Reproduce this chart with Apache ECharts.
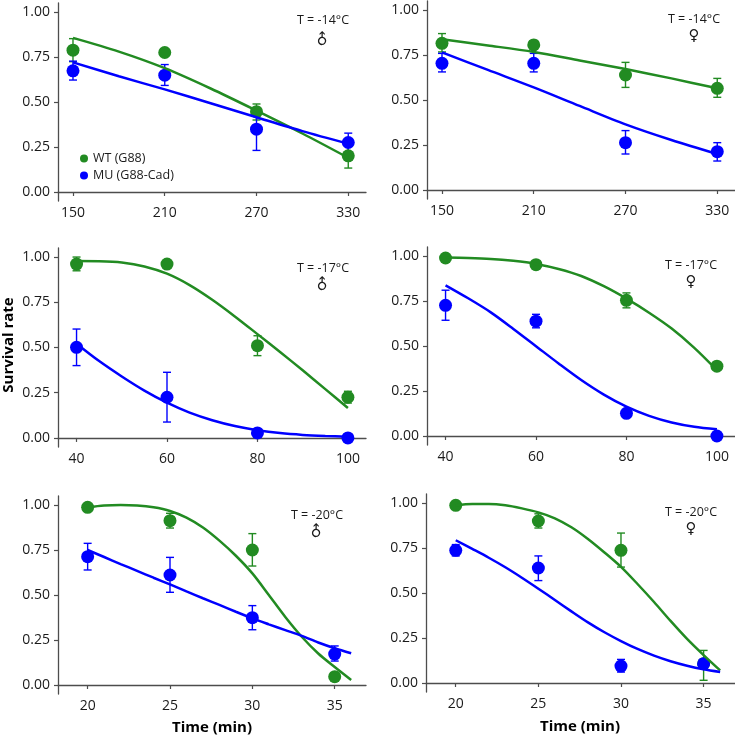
<!DOCTYPE html>
<html>
<head>
<meta charset="utf-8">
<script src="https://cdn.jsdelivr.net/npm/echarts@6/dist/echarts.min.js"></script>
<style>html,body{margin:0;padding:0;background:#fff}#c{width:735px;height:738px}</style>
</head>
<body>
<div id="c"></div>
<script>
// ---- Data ----
const timesA = [150, 210, 270, 330];
const timesB = [40, 60, 80, 100];
const timesC = [20, 25, 30, 35];
const tickLabelsA = [150, 210, 270, 330];
const tickLabelsB = [40, 60, 80, 100];
const tickLabelsC = [20, 25, 30, 35];
const yTicks = [0, 0.25, 0.5, 0.75, 1.0];

// Panel 1: T=-14°C male
const p1_wt = [0.788, 0.775, 0.446, 0.201];
const p1_wt_lo = [0.724, 0.755, 0.400, 0.133];
const p1_wt_hi = [0.852, 0.795, 0.489, 0.270];
const p1_mu = [0.673, 0.649, 0.349, 0.275];
const p1_mu_lo = [0.622, 0.592, 0.231, 0.223];
const p1_mu_hi = [0.727, 0.708, 0.467, 0.327];
const p1_fitX = [150, 180, 210, 240, 270, 300, 330];
const p1_fitWT = [0.856, 0.780, 0.688, 0.575, 0.452, 0.325, 0.190];
const p1_fitMU = [0.720, 0.643, 0.570, 0.493, 0.415, 0.338, 0.268];

// Panel 2: T=-14°C female
const p2_wt = [0.815, 0.806, 0.639, 0.565];
const p2_wt_lo = [0.767, 0.785, 0.570, 0.515];
const p2_wt_hi = [0.869, 0.830, 0.709, 0.620];
const p2_mu = [0.704, 0.704, 0.263, 0.213];
const p2_mu_lo = [0.656, 0.656, 0.200, 0.161];
const p2_mu_hi = [0.759, 0.759, 0.330, 0.263];
const p2_fitX = [150, 180, 210, 240, 270, 300, 330];
const p2_fitWT = [0.837, 0.803, 0.767, 0.720, 0.672, 0.620, 0.565];
const p2_fitMU = [0.765, 0.667, 0.570, 0.467, 0.365, 0.278, 0.200];

// Panel 3: T=-17°C male
const p3_wt = [0.961, 0.961, 0.510, 0.225];
const p3_wt_lo = [0.924, 0.950, 0.455, 0.193];
const p3_wt_hi = [1.000, 0.972, 0.565, 0.258];
const p3_mu = [0.501, 0.225, 0.028, 0.0];
const p3_mu_lo = [0.400, 0.088, 0.020, 0.0];
const p3_mu_hi = [0.602, 0.363, 0.036, 0.0];
const p3_fitX = [40, 45, 50, 55, 60, 65, 70, 75, 80, 85, 90, 95, 100];
const p3_fitWT = [0.978, 0.977, 0.970, 0.948, 0.908, 0.845, 0.764, 0.672, 0.574, 0.475, 0.374, 0.270, 0.166];
const p3_fitMU = [0.521, 0.425, 0.340, 0.262, 0.195, 0.140, 0.098, 0.066, 0.043, 0.027, 0.017, 0.011, 0.007];

// Panel 4: T=-17°C female
const p4_wt = [0.989, 0.952, 0.754, 0.388];
const p4_wt_lo = [0.980, 0.940, 0.712, 0.375];
const p4_wt_hi = [1.000, 0.965, 0.795, 0.400];
const p4_mu = [0.726, 0.638, 0.126, 0.0];
const p4_mu_lo = [0.643, 0.601, 0.115, 0.0];
const p4_mu_hi = [0.810, 0.676, 0.137, 0.0];
const p4_fitX = [40, 45, 50, 55, 60, 65, 70, 75, 80, 85, 90, 95, 100];
const p4_fitWT = [0.991, 0.989, 0.984, 0.973, 0.956, 0.928, 0.889, 0.832, 0.763, 0.685, 0.597, 0.490, 0.366];
const p4_fitMU = [0.837, 0.765, 0.687, 0.595, 0.499, 0.403, 0.311, 0.230, 0.163, 0.112, 0.075, 0.051, 0.037];

// Panel 5: T=-20°C male
const p5_wt = [0.987, 0.913, 0.750, 0.046];
const p5_wt_lo = [0.980, 0.872, 0.661, 0.040];
const p5_wt_hi = [0.995, 0.954, 0.841, 0.050];
const p5_mu = [0.713, 0.611, 0.374, 0.172];
const p5_mu_lo = [0.639, 0.515, 0.307, 0.133];
const p5_mu_hi = [0.787, 0.709, 0.441, 0.217];
const p5_fitX = [20, 21, 22, 23, 24, 25, 26, 27, 28, 29, 30, 31, 32, 33, 34, 35, 36];
const p5_fitWT = [0.987, 0.997, 1.000, 0.997, 0.987, 0.967, 0.930, 0.875, 0.802, 0.718, 0.620, 0.500, 0.378, 0.268, 0.175, 0.100, 0.028];
const p5_fitMU = [0.750, 0.711, 0.672, 0.634, 0.596, 0.559, 0.520, 0.482, 0.445, 0.407, 0.370, 0.337, 0.305, 0.273, 0.236, 0.204, 0.176];

// Panel 6: T=-20°C female
const p6_wt = [0.987, 0.900, 0.737, 0.107];
const p6_wt_lo = [0.980, 0.861, 0.644, 0.015];
const p6_wt_hi = [0.995, 0.940, 0.833, 0.181];
const p6_mu = [0.737, 0.639, 0.094, 0.107];
const p6_mu_lo = [0.706, 0.569, 0.061, 0.080];
const p6_mu_hi = [0.769, 0.706, 0.131, 0.135];
const p6_fitX = [20, 21, 22, 23, 24, 25, 26, 27, 28, 29, 30, 31, 32, 33, 34, 35, 36];
const p6_fitWT = [0.987, 0.994, 0.994, 0.987, 0.970, 0.948, 0.915, 0.865, 0.800, 0.725, 0.645, 0.550, 0.450, 0.345, 0.245, 0.155, 0.070];
const p6_fitMU = [0.793, 0.745, 0.696, 0.643, 0.585, 0.524, 0.461, 0.398, 0.337, 0.282, 0.233, 0.189, 0.152, 0.121, 0.096, 0.076, 0.061];

const panelLabels = ['T = -14°C', 'T = -14°C', 'T = -17°C', 'T = -17°C', 'T = -20°C', 'T = -20°C'];
const sexSymbols = ['♂', '♀', '♂', '♀', '♂', '♀'];

// ---- Build ----
const GREEN = '#228B22';
const BLUE = '#0000FF';
const FONT = '"Open Sans", "Noto Sans", sans-serif';

const panels = [
  {t: timesA, ticks: tickLabelsA, wt: p1_wt, wlo: p1_wt_lo, whi: p1_wt_hi, mu: p1_mu, mlo: p1_mu_lo, mhi: p1_mu_hi, fx: p1_fitX, fw: p1_fitWT, fm: p1_fitMU},
  {t: timesA, ticks: tickLabelsA, wt: p2_wt, wlo: p2_wt_lo, whi: p2_wt_hi, mu: p2_mu, mlo: p2_mu_lo, mhi: p2_mu_hi, fx: p2_fitX, fw: p2_fitWT, fm: p2_fitMU},
  {t: timesB, ticks: tickLabelsB, wt: p3_wt, wlo: p3_wt_lo, whi: p3_wt_hi, mu: p3_mu, mlo: p3_mu_lo, mhi: p3_mu_hi, fx: p3_fitX, fw: p3_fitWT, fm: p3_fitMU},
  {t: timesB, ticks: tickLabelsB, wt: p4_wt, wlo: p4_wt_lo, whi: p4_wt_hi, mu: p4_mu, mlo: p4_mu_lo, mhi: p4_mu_hi, fx: p4_fitX, fw: p4_fitWT, fm: p4_fitMU},
  {t: timesC, ticks: tickLabelsC, wt: p5_wt, wlo: p5_wt_lo, whi: p5_wt_hi, mu: p5_mu, mlo: p5_mu_lo, mhi: p5_mu_hi, fx: p5_fitX, fw: p5_fitWT, fm: p5_fitMU},
  {t: timesC, ticks: tickLabelsC, wt: p6_wt, wlo: p6_wt_lo, whi: p6_wt_hi, mu: p6_mu, mlo: p6_mu_lo, mhi: p6_mu_hi, fx: p6_fitX, fw: p6_fitWT, fm: p6_fitMU}
];

// layout (pixels)
const gridBoxes = [
  {left: 58, top: 3, width: 308, height: 198},
  {left: 427, top: 1, width: 308, height: 198},
  {left: 58, top: 248, width: 308, height: 199},
  {left: 427, top: 247, width: 308, height: 198},
  {left: 58, top: 496, width: 308, height: 198},
  {left: 426, top: 494, width: 309, height: 198}
];
const xRanges = [[140.2, 341.6], [140.2, 341.6], [35.9, 104], [35.9, 104], [18.2, 36.9], [18.2, 36.9]];

const grids = [], xAxes = [], yAxes = [], series = [];
const axisLine = {show: true, lineStyle: {color: '#4d4d4d', width: 1.3}};
const axisTickBase = {show: true, length: 4, lineStyle: {color: '#4d4d4d', width: 1.2}};
const labelBase = {color: '#1a1a1a', fontSize: 14, fontFamily: FONT};

function errRender(color) {
  return function (params, api) {
    const x = api.value(0), lo = api.value(1), hi = api.value(2);
    const p1 = api.coord([x, lo]);
    const p2 = api.coord([x, hi]);
    const w = 4;
    const st = {stroke: color, lineWidth: 1.4};
    return {
      type: 'group',
      children: [
        {type: 'line', shape: {x1: p1[0], y1: p1[1], x2: p2[0], y2: p2[1]}, style: st},
        {type: 'line', shape: {x1: p1[0] - w, y1: p1[1], x2: p1[0] + w, y2: p1[1]}, style: st},
        {type: 'line', shape: {x1: p2[0] - w, y1: p2[1], x2: p2[0] + w, y2: p2[1]}, style: st}
      ]
    };
  };
}

panels.forEach((p, i) => {
  grids.push(Object.assign({containLabel: false}, gridBoxes[i]));
  xAxes.push({
    type: 'value', gridIndex: i, min: xRanges[i][0], max: xRanges[i][1],
    splitLine: {show: false}, axisLine: axisLine,
    axisTick: Object.assign({customValues: p.ticks}, axisTickBase),
    axisLabel: Object.assign({customValues: p.ticks, margin: 5}, labelBase)
  });
  yAxes.push({
    type: 'value', gridIndex: i, min: -0.05, max: 1.05,
    splitLine: {show: false}, axisLine: axisLine,
    axisTick: Object.assign({customValues: yTicks}, axisTickBase),
    axisLabel: Object.assign({customValues: yTicks, margin: 8, formatter: v => v.toFixed(2)}, labelBase)
  });
  const wtFit = p.fx.map((x, k) => [x, p.fw[k]]);
  const muFit = p.fx.map((x, k) => [x, p.fm[k]]);
  const wtErr = p.t.map((x, k) => [x, p.wlo[k], p.whi[k]]);
  const muErr = p.t.map((x, k) => [x, p.mlo[k], p.mhi[k]]);
  series.push(
    {type: 'custom', name: 'WT err', xAxisIndex: i, yAxisIndex: i, data: wtErr, renderItem: errRender(GREEN), z: 2, silent: true},
    {type: 'custom', name: 'MU err', xAxisIndex: i, yAxisIndex: i, data: muErr, renderItem: errRender(BLUE), z: 2, silent: true},
    {type: 'scatter', name: 'WT (G88)', xAxisIndex: i, yAxisIndex: i, data: p.t.map((x, k) => [x, p.wt[k]]), symbolSize: 13, itemStyle: {color: GREEN, opacity: 1}, z: 3},
    {type: 'scatter', name: 'MU (G88-Cad)', xAxisIndex: i, yAxisIndex: i, data: p.t.map((x, k) => [x, p.mu[k]]), symbolSize: 13, itemStyle: {color: BLUE, opacity: 1}, z: 3},
    {type: 'line', name: 'WT fit', xAxisIndex: i, yAxisIndex: i, data: wtFit, smooth: 0.3, showSymbol: false, lineStyle: {color: GREEN, width: 2.5}, itemStyle: {color: GREEN}, z: 4},
    {type: 'line', name: 'MU fit', xAxisIndex: i, yAxisIndex: i, data: muFit, smooth: 0.3, showSymbol: false, lineStyle: {color: BLUE, width: 2.5}, itemStyle: {color: BLUE}, z: 4}
  );
});

// annotation positions
const annPos = [[323, 20, 40], [694, 19, 36], [323, 268, 285], [691, 265, 282], [317, 515, 532], [691, 512, 529]];
const graphics = [];
annPos.forEach((a, i) => {
  graphics.push({type: 'text', x: a[0], y: a[1], style: {text: panelLabels[i], fill: '#1a1a1a', font: '12.5px ' + FONT, textAlign: 'center', textVerticalAlign: 'middle'}});
  graphics.push({type: 'text', x: a[0], y: a[2], rotation: sexSymbols[i] === '♂' ? Math.PI / 4 : 0, style: {text: sexSymbols[i], fill: '#1a1a1a', font: '15px "DejaVu Sans", sans-serif', textAlign: 'center', textVerticalAlign: 'middle'}});
});
graphics.push({type: 'text', x: 9, y: 345, rotation: Math.PI / 2, style: {text: 'Survival rate', fill: '#000', font: 'bold 15px ' + FONT, textAlign: 'center', textVerticalAlign: 'middle'}});
graphics.push({type: 'text', x: 212, y: 728, style: {text: 'Time (min)', fill: '#000', font: 'bold 15px ' + FONT, textAlign: 'center', textVerticalAlign: 'middle'}});
graphics.push({type: 'text', x: 580, y: 727, style: {text: 'Time (min)', fill: '#000', font: 'bold 15px ' + FONT, textAlign: 'center', textVerticalAlign: 'middle'}});

const chart = echarts.init(document.getElementById('c'), null, {renderer: 'canvas'});
chart.setOption({
  animation: false,
  backgroundColor: '#fff',
  grid: grids, xAxis: xAxes, yAxis: yAxes, series: series,
  legend: {
    orient: 'vertical', left: 75, top: 147, itemWidth: 8, itemHeight: 8, itemGap: 4,
    data: [{name: 'WT (G88)', icon: 'circle'}, {name: 'MU (G88-Cad)', icon: 'circle'}],
    textStyle: {color: '#1a1a1a', fontSize: 12.5, fontFamily: FONT}
  },
  graphic: graphics
});
</script>
</body>
</html>
